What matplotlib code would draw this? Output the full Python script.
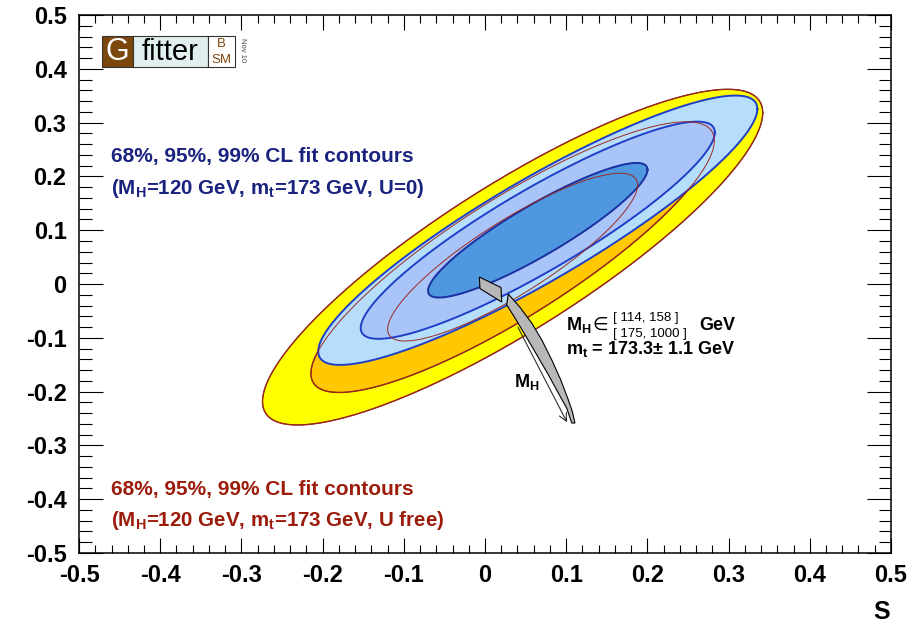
import numpy as np
import matplotlib
matplotlib.use("Agg")
import matplotlib.pyplot as plt
from matplotlib.patches import Rectangle, Polygon
from matplotlib.ticker import MultipleLocator, FuncFormatter

plt.rcParams['font.family'] = ['Liberation Sans', 'DejaVu Sans']
plt.rcParams['mathtext.default'] = 'regular'

# chi2 levels for 2 dof: 68%, 95%, 99% CL
cl_chi2 = [2.30, 5.99, 9.21]

# fit with U free: centre (S, T), sigmas, correlation
ufree_center = [0.034, 0.050]
ufree_sigma = [0.1015, 0.1028]
ufree_rho = 0.86
ufree_colors = ['#f26a1e', '#ffc800', '#ffff00']

# fit with U = 0
u0_center = [0.065, 0.100]
u0_sigma = [0.0891, 0.0825]
u0_rho = 0.90
u0_colors = ['#4f98e0', '#a8c4f8', '#b6defa']

# SM prediction, MH in [114, 158] GeV (mt +- 1.1 GeV)
band1_S = [-0.0070, 0.0197, 0.0206, -0.0062]
band1_T = [0.0130, -0.0065, -0.0335, -0.0084]

# SM prediction, MH in [175, 1000] GeV: upper and lower edges
band2_up_S = [0.0287, 0.0431, 0.0575, 0.0698, 0.0821, 0.0932, 0.1018, 0.1075, 0.1108]
band2_up_T = [-0.0186, -0.0433, -0.0725, -0.1035, -0.1407, -0.1779, -0.2119, -0.2366, -0.2584]
band2_lo_S = [0.0267, 0.0369, 0.0493, 0.0637, 0.0780, 0.0903, 0.1006, 0.1068]
band2_lo_T = [-0.0385, -0.0632, -0.0942, -0.1314, -0.1686, -0.2026, -0.2305, -0.2584]

# increasing MH arrow
arrow_from = (0.039, -0.0757)
arrow_to = (0.1026, -0.2615)


def ellipse(c, sig, rho, chi2, n=400):
    t = np.linspace(0, 2 * np.pi, n)
    k = np.sqrt(chi2)
    s = c[0] + k * sig[0] * np.cos(t)
    tt = c[1] + k * sig[1] * (rho * np.cos(t) + np.sqrt(1 - rho**2) * np.sin(t))
    return s, tt


fig = plt.figure(figsize=(9.19, 6.27), dpi=100)
ax = fig.add_axes([0.086, 0.118, 0.8835, 0.858])
ax.set_xlim(-0.5, 0.5)
ax.set_ylim(-0.5, 0.5)

# U free filled contours, largest first
for chi2, col in zip(cl_chi2[::-1], ufree_colors[::-1]):
    s, t = ellipse(ufree_center, ufree_sigma, ufree_rho, chi2)
    ax.fill(s, t, color=col, lw=0, zorder=1)
    ax.plot(s, t, color='#8b1a10', lw=1.0, zorder=1.5)

# U = 0 filled contours
for chi2, col in zip(cl_chi2[::-1], u0_colors[::-1]):
    s, t = ellipse(u0_center, u0_sigma, u0_rho, chi2)
    ax.fill(s, t, color=col, lw=0, zorder=2)
    ax.plot(s, t, color='#1f3fc8' if chi2 > 3 else '#1a2fa0', lw=1.4, zorder=2.5)

# U free outlines on top
for chi2 in cl_chi2:
    s, t = ellipse(ufree_center, ufree_sigma, ufree_rho, chi2)
    ax.plot(s, t, color='#9a2a20', lw=0.7, zorder=3)

# SM band
ax.add_patch(Polygon(np.column_stack([band1_S, band1_T]), closed=True,
                     facecolor='#b8b8b8', edgecolor='black', lw=0.8, zorder=4))
band2 = np.column_stack([band2_up_S + band2_lo_S[::-1], band2_up_T + band2_lo_T[::-1]])
ax.add_patch(Polygon(band2, closed=True, facecolor='#b8b8b8',
                     edgecolor='black', lw=0.8, zorder=4))

ax.annotate('', xy=arrow_to, xytext=arrow_from,
            arrowprops=dict(arrowstyle='->', color='#303030', lw=0.8,
                            mutation_scale=14), zorder=5)
ax.text(0.051, -0.182, r'M$_{H}$', fontsize=13, fontweight='bold', ha='center', va='center')

ax.text(0.10, -0.085, r'M$_{H}$', fontsize=13, fontweight='bold', ha='left', va='baseline')
ax.text(0.132, -0.085, '\u2208', fontsize=13, ha='left', va='baseline',
        family=['DejaVu Sans'])
ax.text(0.158, -0.069, '[ 114, 158 ]', fontsize=9.5, ha='left', va='baseline')
ax.text(0.158, -0.098, '[ 175, 1000 ]', fontsize=9.5, ha='left', va='baseline')
ax.text(0.264, -0.085, 'GeV', fontsize=13, fontweight='bold', ha='left', va='baseline')
ax.text(0.10, -0.130, r'm$_{t}$ = 173.3$\pm$ 1.1 GeV', fontsize=13,
        fontweight='bold', ha='left', va='baseline')

navy = '#1a237e'
dred = '#9c1c0c'
ax.text(0.039, 0.726, '68%, 95%, 99% CL fit contours', transform=ax.transAxes,
        fontsize=15, fontweight='bold', color=navy)
ax.text(0.039, 0.668, r'(M$_{H}$=120 GeV, m$_{t}$=173 GeV, U=0)', transform=ax.transAxes,
        fontsize=14.8, fontweight='bold', color=navy)
ax.text(0.039, 0.108, '68%, 95%, 99% CL fit contours', transform=ax.transAxes,
        fontsize=15, fontweight='bold', color=dred)
ax.text(0.039, 0.050, r'(M$_{H}$=120 GeV, m$_{t}$=173 GeV, U free)', transform=ax.transAxes,
        fontsize=14.8, fontweight='bold', color=dred)

# Gfitter logo
brown = '#7b470c'
ax.add_patch(Rectangle((0.0283, 0.9033), 0.0382, 0.0577, transform=ax.transAxes,
                       facecolor=brown, edgecolor='#333333', lw=0.8, zorder=6))
ax.add_patch(Rectangle((0.0665, 0.9033), 0.0924, 0.0577, transform=ax.transAxes,
                       facecolor='#e1efef', edgecolor='#333333', lw=0.8, zorder=6))
ax.add_patch(Rectangle((0.1589, 0.9033), 0.0332, 0.0577, transform=ax.transAxes,
                       facecolor='white', edgecolor='#333333', lw=0.8, zorder=6))
ax.text(0.0474, 0.931, 'G', transform=ax.transAxes, fontsize=22, color='white',
        ha='center', va='center', zorder=7)
ax.text(0.1127, 0.931, 'fitter', transform=ax.transAxes, fontsize=21, color='black',
        ha='center', va='center', zorder=7)
ax.text(0.1755, 0.946, 'B', transform=ax.transAxes, fontsize=9.5, color=brown,
        ha='center', va='center', zorder=7)
ax.text(0.1755, 0.917, 'SM', transform=ax.transAxes, fontsize=9.5, color=brown,
        ha='center', va='center', zorder=7)
ax.text(0.2015, 0.935, 'Nov 10', transform=ax.transAxes, fontsize=5.5, color='#444444',
        rotation=-90, ha='center', va='center', zorder=7)

# axes in ROOT style
fmt = FuncFormatter(lambda v, p: '0' if abs(v) < 1e-9 else f'{v:.1f}')
ax.xaxis.set_major_locator(MultipleLocator(0.1))
ax.yaxis.set_major_locator(MultipleLocator(0.1))
ax.xaxis.set_minor_locator(MultipleLocator(0.02))
ax.yaxis.set_minor_locator(MultipleLocator(0.02))
ax.xaxis.set_major_formatter(fmt)
ax.yaxis.set_major_formatter(fmt)
ax.tick_params(axis='both', which='both', direction='in', top=True, right=True, width=0.8)
ax.tick_params(axis='x', which='major', length=11, pad=8, labelsize=17)
ax.tick_params(axis='x', which='minor', length=6)
ax.tick_params(axis='y', which='major', length=17, pad=9, labelsize=17)
ax.tick_params(axis='y', which='minor', length=9)
for lab in ax.get_xticklabels() + ax.get_yticklabels():
    lab.set_fontweight('bold')
for sp in ax.spines.values():
    sp.set_linewidth(1.1)
    sp.set_zorder(10)

fig.text(0.959, 0.024, 'S', fontsize=18, fontweight='bold', ha='center', va='center')

fig.savefig('out.png', dpi=100)
